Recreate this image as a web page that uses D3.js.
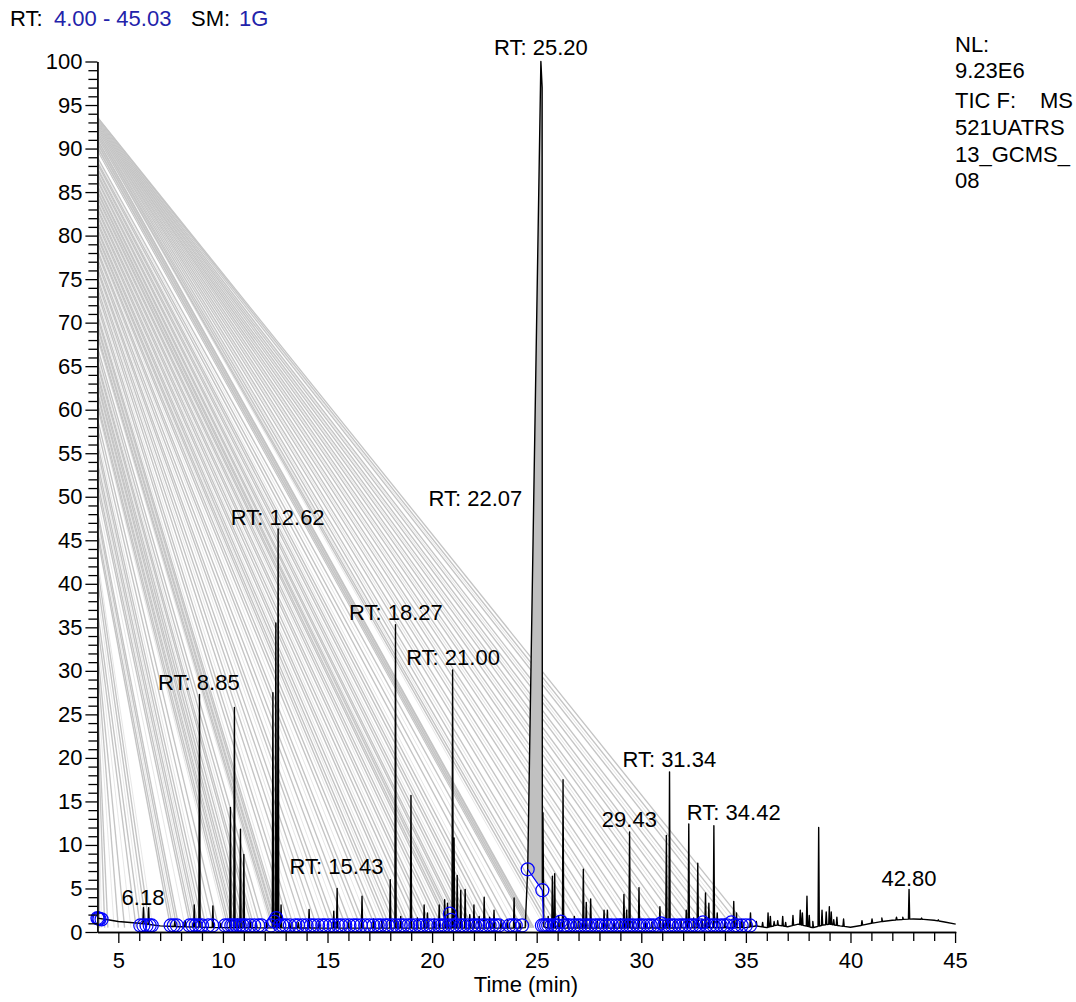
<!DOCTYPE html>
<html>
<head>
<meta charset="utf-8">
<script src="https://cdn.jsdelivr.net/npm/d3@7"></script>
<style>
  body { margin: 0; background: #fff; }
  svg text { font-family: "Liberation Sans", Arial, sans-serif; font-size: 22px; fill: #000; }
</style>
</head>
<body>
<div id="chart"></div>
<script>
// ---- data ----
const xMajorTicks = [5, 10, 15, 20, 25, 30, 35, 40, 45];
const yMajorTicks = [0, 5, 10, 15, 20, 25, 30, 35, 40, 45, 50, 55, 60, 65, 70, 75, 80, 85, 90, 95, 100];

// baseline of the trace [time, relative abundance]
const baseKnots = [[4.0, 1.6], [4.5, 1.4], [5.0, 1.2], [6.0, 1.0], [7.0, 0.7], [8.0, 0.6], [10.0, 0.5],
  [15.0, 0.45], [20.0, 0.45], [25.0, 0.45], [30.0, 0.45], [35.0, 0.5], [35.5, 0.7], [36.0, 0.5],
  [36.5, 0.8], [37.0, 0.6], [37.5, 0.9], [38.2, 0.5], [38.7, 0.8], [39.0, 0.9], [39.5, 0.7],
  [40.0, 0.55], [40.5, 0.75], [41.0, 1.0], [41.5, 1.2], [42.0, 1.35], [42.5, 1.45], [43.0, 1.5],
  [43.5, 1.45], [44.0, 1.35], [44.5, 1.15], [45.03, 0.9]];

// peak apexes [time, relative abundance]
const peaks = [[6.2, 2.8], [6.45, 2.8], [7.7, 1.2], [8.2, 1.3], [8.63, 3.1], [8.88, 27.3], [9.52, 3.0],
  [9.9, 1.0], [10.36, 14.3], [10.55, 25.8], [10.7, 1.5], [10.84, 11.8], [11.0, 8.9], [11.3, 1.2],
  [11.6, 1.0], [12.1, 1.1], [12.39, 27.5], [12.53, 35.5], [12.64, 46.3], [12.78, 3.1], [13.2, 1.0],
  [13.6, 1.1], [14.12, 2.6], [14.6, 1.2], [15.3, 2.4], [15.46, 5.0], [16.0, 1.3], [16.65, 4.1],
  [17.2, 1.5], [17.6, 1.4], [18.0, 6.0], [18.25, 35.3], [18.5, 1.8], [18.99, 15.7], [19.3, 1.6],
  [19.62, 3.1], [19.78, 2.2], [20.1, 1.5], [20.34, 3.1], [20.6, 3.7], [20.74, 3.3], [20.98, 30.1],
  [21.05, 10.8], [21.2, 6.5], [21.37, 4.8], [21.58, 4.9], [21.8, 2.0], [22.0, 3.1], [22.25, 1.8],
  [22.49, 4.0], [22.75, 1.7], [22.96, 2.5], [23.3, 1.3], [23.6, 1.4], [23.92, 3.9], [24.2, 1.0],
  [25.55, 1.8], [25.75, 6.4], [25.86, 6.7], [26.05, 1.8], [26.26, 17.5], [26.5, 1.5], [26.8, 1.8],
  [27.0, 1.4], [27.23, 7.2], [27.37, 3.4], [27.58, 3.8], [27.9, 1.3], [28.22, 2.5], [28.38, 2.5],
  [28.7, 1.2], [29.0, 1.5], [29.17, 4.3], [29.3, 2.5], [29.44, 11.5], [29.6, 1.2], [29.89, 5.1],
  [30.2, 1.2], [30.5, 1.1], [30.89, 2.9], [31.05, 1.3], [31.2, 11.1], [31.35, 18.4], [31.6, 1.4],
  [31.9, 1.3], [32.15, 2.5], [32.27, 12.4], [32.5, 1.6], [32.7, 7.9], [32.9, 1.5], [33.07, 4.5],
  [33.23, 3.3], [33.47, 12.2], [33.63, 2.2], [34.0, 1.5], [34.42, 3.5], [34.55, 2.2], [34.8, 1.4],
  [35.22, 2.2], [35.5, 1.2], [35.8, 1.1], [36.06, 2.2], [36.17, 1.8], [36.35, 1.2], [36.52, 1.3],
  [36.76, 1.8], [36.9, 1.1], [37.25, 1.9], [37.6, 2.5], [37.7, 2.2], [37.92, 4.1], [38.03, 1.9],
  [38.2, 1.2], [38.48, 12.0], [38.64, 2.5], [38.84, 2.3], [38.99, 2.9], [39.08, 2.3], [39.2, 1.4],
  [39.35, 1.7], [39.67, 1.5], [40.55, 1.3], [41.03, 1.5], [41.5, 1.6], [42.2, 1.7], [42.5, 1.7],
  [42.8, 4.9], [43.4, 1.6], [44.2, 1.4]];

// the base peak at 25.20 (filled)
const mainPeak = [[24.45, 0.5], [24.57, 7.2], [25.2, 100], [25.26, 97], [25.27, 5.5], [25.3, 13.7], [25.34, 0.6]];
const mainPeakFill = [[24.57, 7.2], [25.2, 100], [25.265, 97], [25.27, 4.8]];
const mainPeakBase = [[24.57, 7.2], [25.27, 4.8], [25.32, 1.3]];

// grey slivers: [end time on baseline, start level on the RT 4.00 axis]
const slivers = [[4.1, 21], [4.2, 23], [4.35, 25], [4.5, 27], [4.8, 29], [5.0, 31], [5.3, 32.5],
  [5.6, 34], [5.85, 35.5], [6.05, 37], [6.2, 39], [6.35, 40.5], [6.5, 42], [6.65, 43],
  [7.5, 45.5], [7.6, 46.2], [7.7, 47], [7.8, 47.8], [7.9, 48.5], [8.2, 49.8], [8.45, 51],
  [8.55, 51.8], [8.65, 52.5], [8.75, 53.2], [8.85, 54], [8.95, 54.8], [9.05, 55.5], [9.2, 56.2],
  [9.35, 57], [9.55, 58], [9.8, 59],
  [10.15, 60], [10.25, 60.5], [10.35, 61], [10.45, 61.4], [10.5, 61.8], [10.6, 62.2], [10.65, 62.6],
  [10.75, 63], [10.85, 63.4], [10.95, 63.7], [11.0, 64], [11.15, 64.4], [11.25, 64.8], [11.4, 65.2],
  [11.5, 65.6], [11.65, 66], [11.8, 66.5], [12.0, 67.2],
  [12.3, 68], [12.38, 68.4], [12.45, 68.8], [12.5, 69.2], [12.55, 69.5], [12.6, 69.9], [12.65, 70.2],
  [12.72, 70.6], [12.8, 71], [12.95, 71.5],
  [13.2, 72], [13.4, 72.5], [13.6, 73], [13.85, 73.5], [14.1, 74], [14.3, 74.4], [14.5, 74.8],
  [14.75, 75.2], [15.0, 75.6], [15.2, 76], [15.4, 76.3], [15.65, 76.7], [15.9, 77], [16.15, 77.4],
  [16.4, 77.8], [16.6, 78.1], [16.8, 78.4], [17.05, 78.8], [17.3, 79.1], [17.5, 79.35], [17.7, 79.6],
  [17.85, 79.85],
  [18.0, 80.1], [18.15, 80.35], [18.27, 80.6], [18.45, 80.85], [18.6, 81.1], [18.8, 81.4], [18.95, 81.7],
  [19.1, 81.95], [19.3, 82.2], [19.5, 82.45], [19.65, 82.7], [19.85, 82.95], [20.0, 83.2], [20.2, 83.45],
  [20.35, 83.7], [20.5, 83.9], [20.65, 84.1],
  [20.8, 84.35], [20.9, 84.6], [21.0, 84.8], [21.05, 85], [21.15, 85.2], [21.25, 85.4], [21.4, 85.6],
  [21.5, 85.8], [21.65, 86.05], [21.8, 86.3], [21.95, 86.5], [22.1, 86.7], [22.3, 86.95], [22.45, 87.2],
  [22.6, 87.4], [22.8, 87.6], [23.0, 87.8], [23.2, 88], [23.5, 88.25], [23.8, 88.5], [24.05, 88.75],
  [24.3, 89],
  [24.58, 89.8], [24.62, 90.0], [24.65, 90.15], [24.68, 90.3], [24.71, 90.45], [24.74, 90.6],
  [24.77, 90.75], [24.8, 90.9], [24.83, 91.0], [24.86, 91.1],
  [25.4, 91.3], [25.55, 91.4], [25.7, 91.5], [25.85, 91.58], [26.0, 91.65], [26.3, 91.8], [26.5, 91.88],
  [26.7, 91.95], [27.1, 92.1], [27.3, 92.18], [27.5, 92.25], [27.9, 92.4], [28.1, 92.45], [28.3, 92.5],
  [28.7, 92.6], [28.9, 92.65], [29.1, 92.7], [29.5, 92.8], [29.7, 92.85], [29.9, 92.9], [30.3, 93.0],
  [30.5, 93.02], [30.7, 93.05], [31.1, 93.1], [31.3, 93.12], [31.5, 93.15], [31.9, 93.2], [32.1, 93.22],
  [32.3, 93.25], [32.7, 93.3], [32.9, 93.32], [33.1, 93.35], [33.5, 93.4], [33.7, 93.42], [33.9, 93.45],
  [34.4, 93.5], [34.6, 93.52], [34.8, 93.55], [35.1, 93.6]];

// peak boundary markers on the baseline
const markerTimes = [6.05, 6.2, 6.35, 6.5, 6.6, 7.5, 7.65, 7.8, 8.4, 8.55, 8.7, 8.85, 9.0, 9.3, 9.5,
  10.1, 10.25, 10.4, 10.5, 10.65, 10.8, 10.95, 11.1, 11.3, 11.5, 11.7, 11.85, 12.3, 12.7, 12.85,
  13.0, 13.2, 13.45, 13.6, 13.8, 14.0, 14.2, 14.35, 14.55, 14.75, 14.9, 15.1, 15.3, 15.5, 15.65,
  15.85, 16.05, 16.25, 16.4, 16.6, 16.8, 17.0, 17.2, 17.4, 17.55, 17.75, 17.9, 18.1, 18.3, 18.5,
  18.65, 18.85, 19.0, 19.2, 19.4, 19.55, 19.75, 19.9, 20.1, 20.3, 20.45, 20.6, 20.8, 21.0, 21.15,
  21.35, 21.5, 21.7, 21.9, 22.05, 22.2, 22.4, 22.55, 22.75, 22.9, 23.05, 23.2, 23.7, 23.85, 24.0,
  24.3, 25.25, 25.35, 25.45, 25.55, 25.7, 25.85, 26.0, 26.3, 26.45, 26.6, 26.8, 26.95, 27.1,
  27.3, 27.45, 27.6, 27.8, 27.95, 28.1, 28.3, 28.45, 28.6, 28.8, 28.95, 29.1, 29.3, 29.45, 29.6,
  29.8, 29.95, 30.1, 30.3, 30.45, 30.6, 30.8, 31.1, 31.3, 31.45, 31.6, 31.8, 31.95, 32.1, 32.3,
  32.45, 32.6, 32.8, 33.1, 33.3, 33.45, 33.6, 33.8, 33.95, 34.1, 34.45, 34.6, 34.8, 35.0, 35.2];
const markerLevel = 0.75;
const raisedMarkers = [[4.0, 1.6], [4.05, 1.55], [4.1, 1.5], [4.2, 1.45], [12.45, 1.2], [12.55, 1.6],
  [20.85, 2.1], [20.9, 1.4], [26.15, 1.2], [30.95, 1.0], [32.95, 1.1], [34.3, 1.1],
  [24.57, 7.2], [25.27, 4.8]];

// annotations: [text, time, label level]
const peakLabels = [["RT: 25.20", 25.2, 100.7], ["RT: 22.07", 22.07, 48.9], ["RT: 12.62", 12.62, 46.7],
  ["RT: 18.27", 18.27, 35.8], ["RT: 21.00", 21.0, 30.7], ["RT: 8.85", 8.85, 27.8],
  ["RT: 31.34", 31.34, 19.0], ["RT: 34.42", 34.42, 12.9], ["29.43", 29.43, 12.1],
  ["RT: 15.43", 15.43, 6.7], ["6.18", 6.18, 3.1], ["42.80", 42.8, 5.3]];

const infoLines = ["NL:", "9.23E6", "TIC F:", "521UATRS", "13_GCMS_", "08"];

// ---- drawing ----
const W = 1076, H = 1002;
const svg = d3.select("#chart").append("svg").attr("width", W).attr("height", H);

const x = d3.scaleLinear().domain([4.0, 45.03]).range([97.4, 955.7]);
const y = d3.scaleLinear().domain([0, 100]).range([932, 61.5]);

// grey slivers (every third one is a faint, thin sliver)
svg.append("g").selectAll("line").data(slivers).join("line")
  .attr("x1", x(4.0)).attr("y1", d => y(d[1]))
  .attr("x2", d => x(d[0])).attr("y2", y(0.5))
  .attr("stroke", (d, i) => (i % 3 === 1 ? "#e4e4e4" : "#c4c4c4"))
  .attr("stroke-width", (d, i) => (i % 3 === 1 ? 0.9 : 1.35));

// main peak fill
svg.append("path")
  .attr("d", d3.line().x(d => x(d[0])).y(d => y(d[1]))(mainPeakFill) + "Z")
  .attr("fill", "#c0c0c0").attr("stroke", "none");

// trace
const baseAt = t => {
  const i = d3.bisector(d => d[0]).right(baseKnots, t);
  const a = baseKnots[Math.max(0, i - 1)], b = baseKnots[Math.min(baseKnots.length - 1, i)];
  if (a === b) return a[1];
  return a[1] + (b[1] - a[1]) * (t - a[0]) / (b[0] - a[0]);
};
let trace = baseKnots.filter(d => d[0] < mainPeak[0][0] || d[0] > mainPeak[mainPeak.length - 1][0]);
peaks.forEach(([t, h]) => {
  trace.push([t - 0.03, baseAt(t - 0.03)], [t, h], [t + 0.03, baseAt(t + 0.03)]);
});
trace = trace.concat(mainPeak).sort((a, b) => a[0] - b[0]);

svg.append("path")
  .attr("d", d3.line().x(d => x(d[0])).y(d => y(d[1]))(trace))
  .attr("fill", "none").attr("stroke", "#000").attr("stroke-width", 1.4)
  .attr("stroke-linejoin", "round");

// markers
const blue = "#0000ff";
svg.append("path")
  .attr("d", d3.line().x(d => x(d[0])).y(d => y(d[1]))(mainPeakBase))
  .attr("fill", "none").attr("stroke", blue).attr("stroke-width", 1.2);

const markers = markerTimes.map(t => [t, markerLevel]).concat(raisedMarkers);
svg.append("g").selectAll("circle").data(markers).join("circle")
  .attr("cx", d => x(d[0])).attr("cy", d => y(d[1])).attr("r", 6.5)
  .attr("fill", "none").attr("stroke", blue).attr("stroke-width", 1.2);

// axes
const xMinor = d3.range(5, 46).filter(v => v % 5 !== 0);
const yMinor = d3.range(1, 100).filter(v => v % 5 !== 0);

const styleAxis = g => {
  g.selectAll("path, line").attr("stroke", "#000").attr("stroke-width", 1.3);
  g.selectAll("text").attr("font-size", 22).attr("font-family", "Liberation Sans, Arial, sans-serif");
};

svg.append("g").attr("transform", `translate(0,${y(0)})`)
  .call(d3.axisBottom(x).tickValues(xMinor).tickSize(9).tickSizeOuter(0).tickFormat(""))
  .call(styleAxis);
svg.append("g").attr("transform", `translate(0,${y(0)})`)
  .call(d3.axisBottom(x).tickValues(xMajorTicks).tickSize(11).tickSizeOuter(0).tickPadding(9).tickFormat(d3.format("d")))
  .call(styleAxis);

svg.append("g").attr("transform", `translate(${x(4.0)},0)`)
  .call(d3.axisLeft(y).tickValues(yMinor).tickSize(9).tickSizeOuter(0).tickFormat(""))
  .call(styleAxis);
svg.append("g").attr("transform", `translate(${x(4.0)},0)`)
  .call(d3.axisLeft(y).tickValues(yMajorTicks).tickSize(12).tickSizeOuter(0).tickPadding(3).tickFormat(d3.format("d")))
  .call(styleAxis);

// axis title
svg.append("text").attr("x", 526).attr("y", 992).attr("text-anchor", "middle").text("Time (min)");

// peak labels
svg.append("g").selectAll("text").data(peakLabels).join("text")
  .attr("x", d => x(d[1])).attr("y", d => y(d[2]))
  .attr("text-anchor", "middle").text(d => d[0]);

// header
const header = svg.append("g");
header.append("text").attr("x", 10).attr("y", 26).text("RT:");
header.append("text").attr("x", 54).attr("y", 26).style("fill", "#2222aa").text("4.00 - 45.03");
header.append("text").attr("x", 191).attr("y", 26).text("SM:");
header.append("text").attr("x", 239).attr("y", 26).style("fill", "#2222aa").text("1G");

// info block
const infoY = [52, 78, 108, 135, 162, 188];
const info = svg.append("g");
infoLines.forEach((s, i) => info.append("text").attr("x", 955).attr("y", infoY[i]).text(s));
info.append("text").attr("x", 1040).attr("y", infoY[2]).text("MS");
</script>
</body>
</html>
